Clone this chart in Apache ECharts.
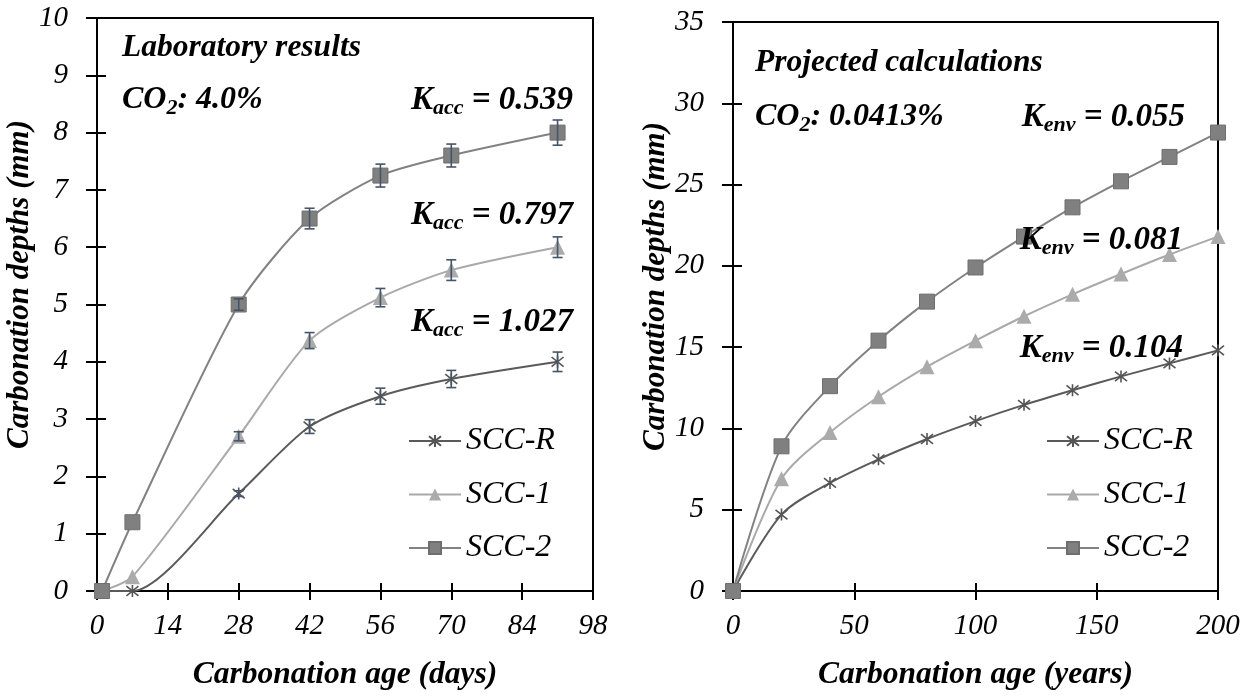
<!DOCTYPE html>
<html><head><meta charset="utf-8">
<script src="https://cdn.jsdelivr.net/npm/echarts@6/dist/echarts.min.js"></script>
<style>html,body{margin:0;padding:0;background:#fff}#c{width:1258px;height:698px}</style>
</head><body><div id="c"></div><script>
// ---- data ----
const seriesNames = ['SCC-R', 'SCC-1', 'SCC-2'];
const daysX = [1, 7, 28, 42, 56, 70, 91];
const labR = [0, 0, 1.7, 2.87, 3.4, 3.7, 4.0];
const lab1 = [0, 0.25, 2.7, 4.37, 5.12, 5.6, 6.0];
const lab2 = [0, 1.2, 5.0, 6.5, 7.25, 7.6, 8.0];
const errR = [0, 0, 0.05, 0.12, 0.14, 0.15, 0.17];
const err1 = [0, 0, 0.08, 0.14, 0.16, 0.18, 0.18];
const err2 = [0, 0, 0.1, 0.18, 0.2, 0.2, 0.22];
const yearsX = [0, 20, 40, 60, 80, 100, 120, 140, 160, 180, 200];
const envR = [0, 4.7, 6.65, 8.1, 9.35, 10.45, 11.45, 12.35, 13.2, 14.0, 14.8];
const env1 = [0, 6.9, 9.75, 11.95, 13.8, 15.4, 16.9, 18.25, 19.5, 20.7, 21.8];
const env2 = [0, 8.9, 12.6, 15.4, 17.8, 19.9, 21.8, 23.6, 25.2, 26.7, 28.2];
const kacc = ['0.539', '0.797', '1.027'];
const kenv = ['0.055', '0.081', '0.104'];
const titles = ['Laboratory results', 'Projected calculations'];
const co2 = ['4.0%', '0.0413%'];

// ---- styles ----
const FONT = '"Liberation Serif", "Times New Roman", serif';
const STAR = 'path://M-1,-1L1,1M-1,1L1,-1M0,-1.25L0,1.25';
const sty = {
  'SCC-R': { symbol: STAR, symbolSize: 12, itemStyle: { color: 'rgba(0,0,0,0)', borderColor: '#555555', borderWidth: 1.6 }, lineStyle: { color: '#5a5a5a', width: 2 } },
  'SCC-1': { symbol: 'triangle', symbolSize: 15, itemStyle: { color: '#ababab' }, lineStyle: { color: '#a9a9a9', width: 2 } },
  'SCC-2': { symbol: 'rect', symbolSize: 15, itemStyle: { color: '#808080', borderColor: '#6e6e6e', borderWidth: 1 }, lineStyle: { color: '#828282', width: 2 } }
};
const pair = (xs, ys) => xs.map((x, i) => [x, ys[i]]);
const triple = (xs, ys, es) => xs.map((x, i) => [x, ys[i], es[i]]);

function lineSeries(name, xi, yi, data, smooth) {
  const s = sty[name];
  return { name, type: 'line', xAxisIndex: xi, yAxisIndex: yi, data, smooth,
    symbol: s.symbol, symbolSize: s.symbolSize, itemStyle: s.itemStyle, lineStyle: s.lineStyle,
    showSymbol: true, z: 3, animation: false };
}
function errSeries(data) {
  return { type: 'custom', xAxisIndex: 0, yAxisIndex: 0, data, z: 4, animation: false, silent: true,
    renderItem(params, api) {
      const x = api.value(0), y = api.value(1), e = api.value(2);
      if (!e) return null;
      const t = api.coord([x, y + e]), b = api.coord([x, y - e]);
      const hw = 5, st = { stroke: '#44546a', lineWidth: 1.6 };
      return { type: 'group', children: [
        { type: 'line', shape: { x1: t[0], y1: t[1], x2: b[0], y2: b[1] }, style: st },
        { type: 'line', shape: { x1: t[0] - hw, y1: t[1], x2: t[0] + hw, y2: t[1] }, style: st },
        { type: 'line', shape: { x1: b[0] - hw, y1: b[1], x2: b[0] + hw, y2: b[1] }, style: st }
      ] };
    } };
}

const axisLabel = { fontFamily: FONT, fontStyle: 'italic', fontSize: 29, color: '#000' };
const xNameStyle = { fontFamily: FONT, fontStyle: 'italic', fontWeight: 'bold', fontSize: 31.5, color: '#000' };
const yNameStyle = { fontFamily: FONT, fontStyle: 'italic', fontWeight: 'bold', fontSize: 31, color: '#000', padding: [0, 0, 0, 40] };
const axLine = { show: true, lineStyle: { color: '#000', width: 2 } };

function xAx(grid, min, max, interval, name, main) {
  return { type: 'value', gridIndex: grid, min, max, interval, position: 'bottom',
    name: main ? name : '', nameLocation: 'middle', nameGap: 68, nameTextStyle: xNameStyle,
    axisLine: axLine, splitLine: { show: false },
    axisTick: { show: true, inside: !main, length: main ? 9 : 8, lineStyle: { color: '#000', width: 2 } },
    axisLabel: main ? Object.assign({ margin: 21 }, axisLabel) : { show: false } };
}
function yAx(grid, min, max, interval, name, main) {
  return { type: 'value', gridIndex: grid, min, max, interval, position: 'left',
    name: main ? name : '', nameLocation: 'middle', nameGap: 51, nameTextStyle: yNameStyle,
    axisLine: axLine, splitLine: { show: false },
    axisTick: { show: true, inside: !main, length: main ? 11 : 9, lineStyle: { color: '#000', width: 2 } },
    axisLabel: main ? Object.assign({ margin: 29 }, axisLabel) : { show: false } };
}

function rt(x, y, text, align, size) {
  return { type: 'text', x, y, z: 10, style: {
    text, textAlign: align, textVerticalAlign: 'middle',
    font: 'italic bold ' + size + 'px ' + FONT, fill: '#000',
    rich: {
      m: { fontFamily: FONT, fontStyle: 'italic', fontWeight: 'bold', fontSize: size, fill: '#000' },
      s: { fontFamily: FONT, fontStyle: 'italic', fontWeight: 'bold', fontSize: Math.round(size * 0.68), fill: '#000', padding: [Math.round(size * 0.5), 0, 0, 0] }
    } } };
}

const graphics = [
  rt(122, 48, '{m|' + titles[0] + '}', 'left', 31.5),
  rt(122, 100, '{m|CO}{s|2}{m|: ' + co2[0] + '}', 'left', 32),
  rt(573, 100, '{m|K}{s|acc}{m| = ' + kacc[0] + '}', 'right', 33),
  rt(573, 215, '{m|K}{s|acc}{m| = ' + kacc[1] + '}', 'right', 33),
  rt(573, 322, '{m|K}{s|acc}{m| = ' + kacc[2] + '}', 'right', 33),
  rt(755, 63, '{m|' + titles[1] + '}', 'left', 31.5),
  rt(755, 117, '{m|CO}{s|2}{m|: ' + co2[1] + '}', 'left', 32),
  rt(1185, 117, '{m|K}{s|env}{m| = ' + kenv[0] + '}', 'right', 33),
  rt(1183, 240, '{m|K}{s|env}{m| = ' + kenv[1] + '}', 'right', 33),
  rt(1183, 348, '{m|K}{s|env}{m| = ' + kenv[2] + '}', 'right', 33)
];

const legendBase = { orient: 'vertical', itemWidth: 52, itemHeight: 15, itemGap: 21.5,
  textStyle: { fontFamily: FONT, fontStyle: 'italic', fontSize: 32, color: '#000', lineHeight: 32 },
  data: seriesNames, selectedMode: false };

const option = {
  backgroundColor: '#fff',
  animation: false,
  grid: [
    { left: 97, top: 18, width: 496, height: 573, show: true, borderColor: '#000', borderWidth: 2, backgroundColor: 'transparent' },
    { left: 733, top: 22, width: 485, height: 569, show: true, borderColor: '#000', borderWidth: 2, backgroundColor: 'transparent' }
  ],
  xAxis: [
    xAx(0, 0, 98, 14, 'Carbonation age (days)', true),
    xAx(1, 0, 200, 50, 'Carbonation age (years)', true),
    xAx(0, 0, 98, 14, '', false),
    xAx(1, 0, 200, 50, '', false)
  ],
  yAxis: [
    yAx(0, 0, 10, 1, 'Carbonation depths (mm)', true),
    yAx(1, 0, 35, 5, 'Carbonation depths (mm)', true),
    yAx(0, 0, 10, 1, '', false),
    yAx(1, 0, 35, 5, '', false)
  ],
  legend: [
    Object.assign({ left: 403, top: 420 }, legendBase),
    Object.assign({ left: 1041, top: 420 }, legendBase)
  ],
  series: [
    lineSeries('SCC-R', 0, 0, pair(daysX, labR), 0.25),
    lineSeries('SCC-1', 0, 0, pair(daysX, lab1), 0.25),
    lineSeries('SCC-2', 0, 0, pair(daysX, lab2), 0.25),
    errSeries(triple(daysX, labR, errR)),
    errSeries(triple(daysX, lab1, err1)),
    errSeries(triple(daysX, lab2, err2)),
    lineSeries('SCC-R', 1, 1, pair(yearsX, envR), 0.3),
    lineSeries('SCC-1', 1, 1, pair(yearsX, env1), 0.3),
    lineSeries('SCC-2', 1, 1, pair(yearsX, env2), 0.3)
  ],
  graphic: graphics
};
const chart = echarts.init(document.getElementById('c'), null, { renderer: 'canvas' });
chart.setOption(option);
</script></body></html>
